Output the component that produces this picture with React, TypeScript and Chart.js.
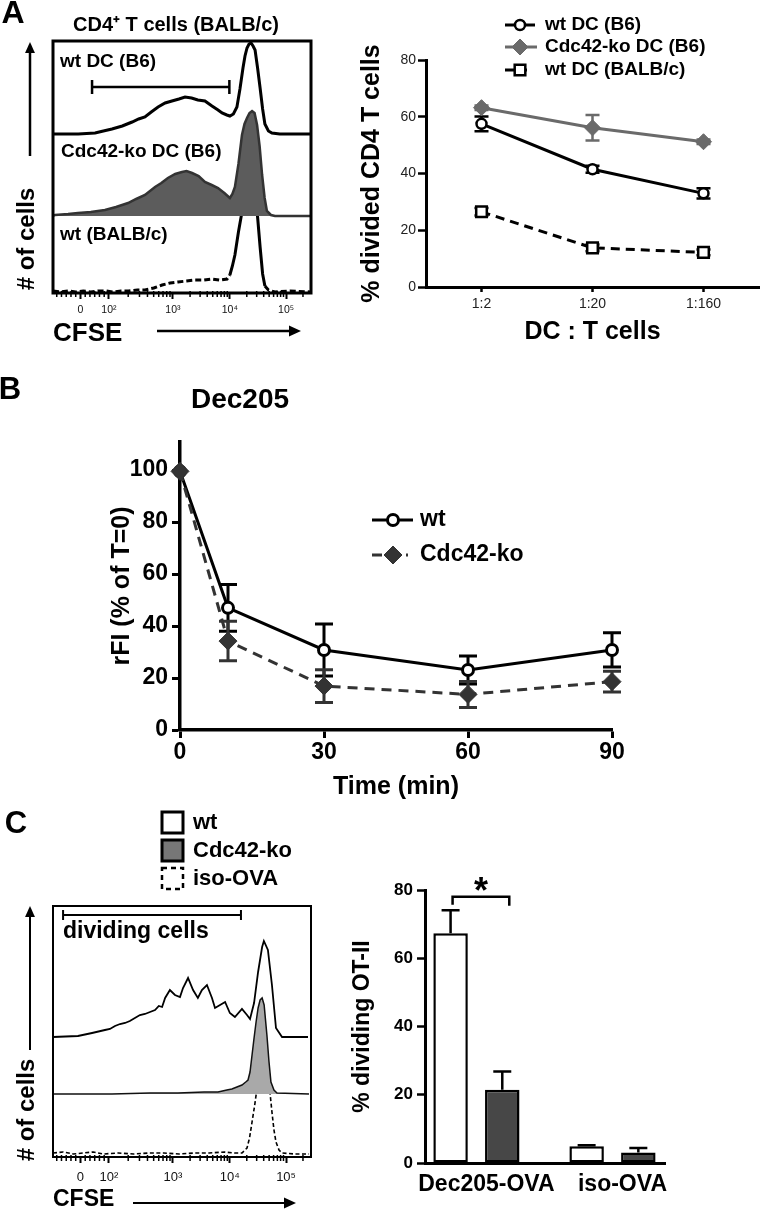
import React, { useEffect, useRef } from 'react';
import { Chart, registerables } from 'chart.js';

Chart.register(...registerables);

const PAGE_W = 769;
const PAGE_H = 1210;
const SANS = "'Liberation Sans', Arial, Helvetica, sans-serif";
const NARROW = "'Liberation Sans Narrow', 'Arial Narrow', 'Liberation Sans', Arial, sans-serif";

// ================= DATA =================
// ---- A (left): CFSE histograms (channel 0..1024, counts in events) ----
const CFSE_TICK_CHANNELS = [109, 222, 476, 702, 925];
const CFSE_TICK_LABELS = ['0', '10²', '10³', '10⁴', '10⁵'];
const A_HIST_TITLE = 'CD4⁺ T cells (BALB/c)';
const A_LANE_LABELS = ['wt DC (B6)', 'Cdc42-ko DC (B6)', 'wt (BALB/c)'];
const A_GATE = [155, 700];

const A_WT_B6_CH = [0, 100, 167, 200, 234, 275, 314, 340, 365, 390, 417, 445, 472, 500, 524, 550, 575, 603, 631, 655, 671, 690, 702, 716, 730, 742, 754, 762, 770, 778, 786, 794, 802, 812, 822, 832, 841, 855, 869, 900, 1024];
const A_WT_B6_COUNT = [0, 0, 1, 3, 5, 8, 12, 15, 17, 22, 27, 31, 33, 35, 37, 36, 34, 33, 28, 24, 21, 19, 18, 20, 27, 45, 66, 78, 86, 90, 91, 88, 84, 66, 46, 25, 10, 3, 1, 0, 0];
const A_KO_B6_CH = [0, 8, 60, 99, 150, 206, 250, 298, 330, 365, 405, 430, 456, 485, 512, 530, 552, 578, 603, 630, 655, 680, 702, 712, 722, 736, 750, 760, 770, 780, 790, 800, 810, 820, 830, 840, 849, 865, 881, 1024];
const A_KO_B6_COUNT = [0, 1, 2, 3, 4, 6, 9, 13, 17, 21, 29, 33, 38, 42, 44, 45, 43, 40, 34, 31, 28, 23, 18, 22, 29, 52, 81, 92, 98, 103, 105, 103, 91, 70, 41, 18, 5, 1, 0, 0];
const A_WT_BALB_CH = [0, 30, 60, 90, 120, 150, 180, 210, 240, 270, 300, 335, 365, 400, 433, 465, 496, 530, 564, 600, 631, 660, 691, 702, 712, 722, 736, 750, 760, 770, 778, 786, 794, 802, 812, 822, 832, 841, 855, 881, 940, 1024];
const A_WT_BALB_COUNT = [1, 0, 1, 0, 1, 0, 1, 1, 0, 1, 1, 2, 2, 4, 7, 9, 10, 11, 12, 12, 13, 12, 13, 17, 26, 37, 60, 80, 93, 100, 104, 105, 103, 97, 75, 45, 18, 6, 2, 0, 1, 0];

// ---- A (right): % divided CD4 T cells ----
const DC_T_RATIOS = ['1:2', '1:20', '1:160'];
const A_SERIES_LABELS = ['wt DC (B6)', 'Cdc42-ko DC (B6)', 'wt DC (BALB/c)'];
const DIV_WT_B6 = [57.5, 41.5, 33];
const DIV_WT_B6_ERR = [2.6, 1.2, 1.8];
const DIV_KO_B6 = [63.2, 56.1, 51.2];
const DIV_KO_B6_ERR = [0.8, 4.5, 0.8];
const DIV_WT_BALB = [26.5, 13.8, 12.2];
const DIV_WT_BALB_ERR = [1.3, 1.2, 1.0];

// ---- B: Dec205 internalisation ----
const B_TITLE = 'Dec205';
const B_SERIES_LABELS = ['wt', 'Cdc42-ko'];
const TIME_MIN = [0, 10, 30, 60, 90];
const RFI_WT = [99.5, 47, 30.8, 23.1, 30.8];
const RFI_WT_ERR = [0, 9, 10, 5.4, 6.6];
const RFI_KO = [99.5, 34.2, 16.9, 13.7, 18.6];
const RFI_KO_ERR = [0, 7.6, 6.3, 5.0, 4.0];

// ---- C (left): OT-II CFSE histograms ----
const C_LEGEND_LABELS = ['wt', 'Cdc42-ko', 'iso-OVA'];
const C_GATE_LABEL = 'dividing cells';
const C_GATE = [40, 746];
const C_WT_CH = [0, 99, 155, 206, 226, 246, 266, 286, 305, 325, 345, 365, 385, 405, 420, 433, 445, 464, 484, 504, 516, 536, 556, 575, 591, 611, 631, 643, 663, 683, 702, 722, 750, 770, 782, 798, 814, 830, 837, 853, 869, 885, 909, 1012];
const C_WT_COUNT = [0, 1, 4, 7, 8, 11, 13, 14, 16, 19, 22, 23, 25, 27, 31, 30, 39, 47, 42, 40, 49, 59, 47, 39, 47, 52, 39, 29, 32, 35, 24, 20, 28, 22, 18, 34, 65, 90, 96, 87, 52, 9, 0, 0];
const C_KO_CH = [4, 100, 234, 385, 496, 600, 655, 690, 710, 730, 750, 765, 774, 782, 790, 798, 806, 814, 822, 830, 838, 849, 857, 865, 877, 889, 1016];
const C_KO_COUNT = [0, 0, 0, 1, 1, 2, 2, 4, 5, 7, 9, 12, 14, 22, 39, 56, 72, 86, 94, 96, 89, 59, 33, 12, 4, 1, 0];
const C_ISO_CH = [0, 40, 80, 120, 160, 200, 260, 320, 380, 440, 500, 560, 620, 680, 720, 750, 770, 780, 790, 800, 810, 818, 826, 834, 841, 847, 853, 861, 869, 877, 885, 897, 909, 960, 1016];
const C_ISO_COUNT = [1, 2, 0, 1, 2, 0, 1, 0, 1, 1, 0, 1, 1, 2, 1, 1, 6, 16, 32, 48, 66, 80, 91, 94, 92, 86, 79, 62, 42, 24, 12, 4, 1, 0, 0];

// ---- C (right): % dividing OT-II ----
const OVA_GROUPS = ['Dec205-OVA', 'iso-OVA'];
const OTII_WT = [67.3, 4.9];
const OTII_WT_ERR = [6.8, 0.3];
const OTII_KO = [21.5, 3.1];
const OTII_KO_ERR = [5.3, 1.3];
const SIG_LEVEL = 78;
const SIG_MARK = '*';

// ================= LAYOUT =================
type Area = { l: number; t: number; r: number; b: number };
const AREA_A_HIST: Area = { l: 53, t: 41, r: 311, b: 293 };
const AREA_A_LINE: Area = { l: 426, t: 60, r: 769, b: 287 };
const AREA_B: Area = { l: 180, t: 442, r: 612, b: 730 };
const AREA_C_HIST: Area = { l: 53, t: 906, r: 311, b: 1157 };
const AREA_C_BAR: Area = { l: 425, t: 890, r: 665, b: 1163 };
const A_BASELINES = [134, 216, 292];
const C_BASELINES = [1037, 1094, 1154];

const base = (a: Area, yw: number, xh: number) => ({
  animation: false as const,
  responsive: false,
  maintainAspectRatio: false,
  devicePixelRatio: 1,
  events: [] as any[],
  layout: { padding: { left: a.l - yw, top: a.t, right: PAGE_W - a.r, bottom: PAGE_H - a.b - xh } },
  plugins: { legend: { display: false }, tooltip: { enabled: false }, title: { display: false } },
});

const zip = (xs: number[], ys: number[]) => xs.map((x, i) => ({ x, y: ys[i] }));
const bold = (size: number, family = SANS) => ({ family, size, weight: 'bold' as const });

// dashed where the trace is shallow, solid on the steep flanks of the peak
const steepSolid = (dash: number[]) => ({
  borderDash: (c: any) => {
    const dx = Math.abs(c.p1.x - c.p0.x);
    const dy = Math.abs(c.p1.y - c.p0.y);
    return dy > 1.6 * dx ? [] : dash;
  },
});

// ================= DRAW HELPERS =================
function text(ctx: CanvasRenderingContext2D, s: string, x: number, y: number, size: number,
  o: { bold?: boolean; align?: CanvasTextAlign; baseline?: CanvasTextBaseline; rot?: number; family?: string; color?: string } = {}) {
  ctx.save();
  ctx.font = `${o.bold === false ? '' : 'bold '}${size}px ${o.family || SANS}`;
  ctx.fillStyle = o.color || '#000';
  ctx.textAlign = o.align || 'left';
  ctx.textBaseline = o.baseline || 'middle';
  ctx.translate(x, y);
  if (o.rot) ctx.rotate(o.rot);
  ctx.fillText(s, 0, 0);
  ctx.restore();
}

function arrow(ctx: CanvasRenderingContext2D, x1: number, y1: number, x2: number, y2: number, lw = 2.5, head = 11) {
  const a = Math.atan2(y2 - y1, x2 - x1);
  const c = Math.cos(a), s = Math.sin(a);
  ctx.save();
  ctx.strokeStyle = '#000';
  ctx.fillStyle = '#000';
  ctx.lineWidth = lw;
  ctx.beginPath();
  ctx.moveTo(x1, y1);
  ctx.lineTo(x2 - c * head * 0.7, y2 - s * head * 0.7);
  ctx.stroke();
  const w = head * 0.45;
  ctx.beginPath();
  ctx.moveTo(x2, y2);
  ctx.lineTo(x2 - head * c + w * s, y2 - head * s - w * c);
  ctx.lineTo(x2 - head * c - w * s, y2 - head * s + w * c);
  ctx.closePath();
  ctx.fill();
  ctx.restore();
}

function marker(ctx: CanvasRenderingContext2D, style: string, x: number, y: number, r: number, fill: string, stroke: string, lw: number) {
  ctx.save();
  ctx.beginPath();
  if (style === 'circle') ctx.arc(x, y, r, 0, Math.PI * 2);
  else if (style === 'rectRot') {
    ctx.moveTo(x - r, y); ctx.lineTo(x, y - r); ctx.lineTo(x + r, y); ctx.lineTo(x, y + r); ctx.closePath();
  } else {
    const h = r * Math.SQRT1_2;
    ctx.rect(x - h, y - h, 2 * h, 2 * h);
  }
  ctx.fillStyle = fill;
  ctx.fill();
  ctx.lineWidth = lw;
  ctx.strokeStyle = stroke;
  ctx.setLineDash([]);
  ctx.stroke();
  ctx.restore();
}

function drawErrors(chart: any, upperOnly: boolean, cap: number, lw: number) {
  const ctx: CanvasRenderingContext2D = chart.ctx;
  chart.data.datasets.forEach((ds: any, di: number) => {
    const errs: number[] = ds.errors;
    if (!errs) return;
    const meta = chart.getDatasetMeta(di);
    const ys = chart.scales[meta.yAxisID];
    ctx.save();
    ctx.strokeStyle = ds.errorColor || ds.borderColor;
    ctx.lineWidth = lw;
    ctx.setLineDash([]);
    meta.data.forEach((el: any, i: number) => {
      const e = errs[i];
      if (!e) return;
      const raw = ds.data[i];
      const v = typeof raw === 'number' ? raw : raw.y;
      const x = el.x;
      const top = ys.getPixelForValue(v + e);
      const bot = ys.getPixelForValue(upperOnly ? v : v - e);
      ctx.beginPath();
      ctx.moveTo(x, top); ctx.lineTo(x, bot);
      ctx.moveTo(x - cap, top); ctx.lineTo(x + cap, top);
      if (!upperOnly) { ctx.moveTo(x - cap, bot); ctx.lineTo(x + cap, bot); }
      ctx.stroke();
    });
    ctx.restore();
  });
}

function drawLineLegend(chart: any, rows: number[], x0: number, x1s: number[], xm: number, xt: number, size: number) {
  const ctx: CanvasRenderingContext2D = chart.ctx;
  chart.data.datasets.forEach((ds: any, i: number) => {
    const y = rows[i];
    ctx.save();
    ctx.strokeStyle = ds.borderColor;
    ctx.lineWidth = ds.borderWidth;
    ctx.setLineDash(ds.borderDash || []);
    ctx.beginPath();
    ctx.moveTo(x0, y);
    ctx.lineTo(x1s[i], y);
    ctx.stroke();
    ctx.restore();
    marker(ctx, ds.pointStyle, xm, y, ds.pointRadius, ds.pointBackgroundColor, ds.pointBorderColor, ds.pointBorderWidth);
    text(ctx, ds.label, xt, y, size);
  });
}

function cfseMinorTicks(): number[] {
  const t = CFSE_TICK_CHANNELS;
  const out: number[] = [];
  const lin = t[1] - t[0];
  for (let k = 1; k < 6; k++) out.push(t[0] + (lin * k) / 6, t[0] - (lin * k) / 6);
  for (let d = 1; d < t.length; d++) {
    const span = d < t.length - 1 ? t[d + 1] - t[d] : t[d] - t[d - 1];
    for (let k = 2; k < 10; k++) out.push(t[d] + span * Math.log10(k));
  }
  return out.filter((v) => v > 2 && v < 1022);
}

function drawHistFrame(chart: any, lw: number) {
  const ctx: CanvasRenderingContext2D = chart.ctx;
  const ca = chart.chartArea;
  const xs = chart.scales.x;
  ctx.save();
  ctx.strokeStyle = '#000';
  ctx.lineWidth = lw;
  ctx.strokeRect(ca.left, ca.top, ca.right - ca.left, ca.bottom - ca.top);
  ctx.lineWidth = 1.5;
  ctx.beginPath();
  for (const v of cfseMinorTicks()) {
    const px = xs.getPixelForValue(v);
    ctx.moveTo(px, ca.bottom - 2);
    ctx.lineTo(px, ca.bottom + 4);
  }
  ctx.stroke();
  ctx.restore();
}

function drawGate(chart: any, gate: number[], y: number, capH: number, lw: number) {
  const ctx: CanvasRenderingContext2D = chart.ctx;
  const xs = chart.scales.x;
  const g1 = xs.getPixelForValue(gate[0]);
  const g2 = xs.getPixelForValue(gate[1]);
  ctx.save();
  ctx.strokeStyle = '#000';
  ctx.lineWidth = lw;
  ctx.beginPath();
  ctx.moveTo(g1, y); ctx.lineTo(g2, y);
  ctx.moveTo(g1, y - capH); ctx.lineTo(g1, y + capH);
  ctx.moveTo(g2, y - capH); ctx.lineTo(g2, y + capH);
  ctx.stroke();
  ctx.restore();
}

// ================= AXES =================
const cfseAxis = (fontSize: number, pad: number) => ({
  type: 'linear' as const,
  min: 0,
  max: 1024,
  afterFit: (s: any) => { s.height = 45; },
  afterBuildTicks: (s: any) => { s.ticks = CFSE_TICK_CHANNELS.map((v) => ({ value: v })); },
  ticks: {
    callback: (_v: any, i: number) => CFSE_TICK_LABELS[i],
    font: { family: SANS, size: fontSize },
    color: '#111',
    padding: pad,
    maxRotation: 0,
    autoSkip: false,
  },
  grid: { drawOnChartArea: false, tickLength: 6, tickWidth: 2, tickColor: '#000' },
  border: { display: false },
});

const laneAxis = (a: Area, baseline: number) => ({
  type: 'linear' as const,
  axis: 'y',
  position: 'left',
  display: false,
  min: baseline - a.b,
  max: baseline - a.t,
});

// ================= CHART BUILDERS =================
function buildAHist(canvas: HTMLCanvasElement) {
  const a = AREA_A_HIST;
  return new Chart(canvas, {
    type: 'line',
    data: {
      datasets: [
        { label: A_LANE_LABELS[0], data: zip(A_WT_B6_CH, A_WT_B6_COUNT), yAxisID: 'yLane0', borderColor: '#000', borderWidth: 3, pointRadius: 0, fill: false, tension: 0 },
        { label: A_LANE_LABELS[1], data: zip(A_KO_B6_CH, A_KO_B6_COUNT), yAxisID: 'yLane1', borderColor: '#333', backgroundColor: '#5c5c5c', borderWidth: 2.5, pointRadius: 0, fill: 'origin', tension: 0 },
        { label: A_LANE_LABELS[2], data: zip(A_WT_BALB_CH, A_WT_BALB_COUNT), yAxisID: 'yLane2', borderColor: '#000', borderWidth: 3, pointRadius: 0, fill: false, tension: 0, segment: steepSolid([6, 3]) },
      ],
    } as any,
    options: {
      ...base(a, 0, 45),
      scales: {
        x: cfseAxis(10.5, 4.5),
        yLane0: laneAxis(a, A_BASELINES[0]),
        yLane1: laneAxis(a, A_BASELINES[1]),
        yLane2: laneAxis(a, A_BASELINES[2]),
      },
    } as any,
    plugins: [{
      id: 'aHistDecor',
      afterDraw(chart: any) {
        const ctx = chart.ctx;
        drawHistFrame(chart, 3);
        drawGate(chart, A_GATE, 87, 7, 2.5);
        text(ctx, 'A', 13, 14, 32, { align: 'center' });
        text(ctx, A_HIST_TITLE, 176, 25, 20, { align: 'center' });
        text(ctx, A_LANE_LABELS[0], 60, 62, 19);
        text(ctx, A_LANE_LABELS[1], 61, 152, 19);
        text(ctx, A_LANE_LABELS[2], 60, 235, 19);
        text(ctx, '# of cells', 27, 239, 24, { align: 'center', rot: -Math.PI / 2 });
        arrow(ctx, 30, 156, 30, 42, 2.5, 11);
        text(ctx, 'CFSE', 53, 334, 26);
        arrow(ctx, 157, 331, 301, 331, 2.5, 12);
      },
    }],
  });
}

function buildALine(canvas: HTMLCanvasElement) {
  const a = AREA_A_LINE;
  return new Chart(canvas, {
    type: 'line',
    data: {
      labels: DC_T_RATIOS,
      datasets: [
        { label: A_SERIES_LABELS[0], data: DIV_WT_B6, errors: DIV_WT_B6_ERR, borderColor: '#000', borderWidth: 3, pointStyle: 'circle', pointRadius: 5, pointBackgroundColor: '#fff', pointBorderColor: '#000', pointBorderWidth: 2.5, clip: false, tension: 0 },
        { label: A_SERIES_LABELS[1], data: DIV_KO_B6, errors: DIV_KO_B6_ERR, borderColor: '#6a6a6a', borderWidth: 3, pointStyle: 'rectRot', pointRadius: 8, pointBackgroundColor: '#6a6a6a', pointBorderColor: '#6a6a6a', pointBorderWidth: 1, clip: false, tension: 0 },
        { label: A_SERIES_LABELS[2], data: DIV_WT_BALB, errors: DIV_WT_BALB_ERR, borderColor: '#000', borderWidth: 3, borderDash: [9, 6], pointStyle: 'rect', pointRadius: 7.5, pointBackgroundColor: '#fff', pointBorderColor: '#000', pointBorderWidth: 2.5, clip: false, tension: 0 },
      ],
    } as any,
    options: {
      ...base(a, 86, 60),
      scales: {
        x: {
          type: 'category',
          offset: true,
          afterFit: (s: any) => { s.height = 60; },
          ticks: { font: { family: SANS, size: 14 }, color: '#222', padding: 4, maxRotation: 0 },
          grid: { drawOnChartArea: false, offset: false, tickLength: 5, tickWidth: 2.5, tickColor: '#000' },
          border: { color: '#000', width: 3 },
          title: { display: true, text: 'DC : T cells', font: bold(25), color: '#000', padding: 0 },
        },
        y: {
          type: 'linear',
          min: 0,
          max: 80,
          afterFit: (s: any) => { s.width = 86; },
          ticks: { stepSize: 20, font: { family: SANS, size: 14 }, color: '#222', padding: 2 },
          grid: { drawOnChartArea: false, tickLength: 8, tickWidth: 2.5, tickColor: '#000' },
          border: { color: '#000', width: 3 },
          title: { display: true, text: '% divided CD4 T cells', font: bold(25), color: '#000', padding: { top: 17, bottom: 0 } },
        },
      },
    } as any,
    plugins: [{
      id: 'aLineDecor',
      beforeDatasetsDraw(chart: any) { drawErrors(chart, false, 7, 2.5); },
      afterDraw(chart: any) { drawLineLegend(chart, [25, 47, 70], 505, [535, 537, 527], 520, 545, 19); },
    }],
  });
}

function buildB(canvas: HTMLCanvasElement) {
  const a = AREA_B;
  return new Chart(canvas, {
    type: 'line',
    data: {
      datasets: [
        { label: B_SERIES_LABELS[0], data: zip(TIME_MIN, RFI_WT), errors: RFI_WT_ERR, order: 1, borderColor: '#000', borderWidth: 3, pointStyle: 'circle', pointRadius: 5.5, pointBackgroundColor: '#fff', pointBorderColor: '#000', pointBorderWidth: 3, clip: false, tension: 0 },
        { label: B_SERIES_LABELS[1], data: zip(TIME_MIN, RFI_KO), errors: RFI_KO_ERR, order: 0, borderColor: '#333', borderWidth: 3, borderDash: [10, 7], pointStyle: 'rectRot', pointRadius: 9, pointBackgroundColor: '#333', pointBorderColor: '#333', pointBorderWidth: 1, clip: false, tension: 0 },
      ],
    } as any,
    options: {
      ...base(a, 80, 72),
      scales: {
        x: {
          type: 'linear',
          min: 0,
          max: 90,
          afterFit: (s: any) => { s.height = 72; },
          ticks: { stepSize: 30, font: bold(23, NARROW), color: '#000', padding: 1, maxRotation: 0 },
          grid: { drawOnChartArea: false, tickLength: 8, tickWidth: 3, tickColor: '#000' },
          border: { color: '#000', width: 3.5 },
          title: { display: true, text: 'Time (min)', font: bold(25), color: '#000', padding: 0 },
        },
        y: {
          type: 'linear',
          min: 0,
          max: 110.8,
          afterFit: (s: any) => { s.width = 80; },
          ticks: { stepSize: 20, includeBounds: false, font: bold(23, NARROW), color: '#000', padding: 4 },
          grid: { drawOnChartArea: false, tickLength: 8, tickWidth: 3, tickColor: '#000' },
          border: { color: '#000', width: 3.5 },
          title: { display: true, text: 'rFI (% of T=0)', font: bold(25), color: '#000', padding: { top: 7, bottom: 0 } },
        },
      },
    } as any,
    plugins: [{
      id: 'bDecor',
      beforeDatasetsDraw(chart: any) { drawErrors(chart, false, 9, 3); },
      afterDraw(chart: any) {
        const ctx = chart.ctx;
        text(ctx, 'B', 10, 390, 31, { align: 'center' });
        text(ctx, B_TITLE, 240, 400, 28, { align: 'center' });
        drawLineLegend(chart, [520, 555], 372, [413, 408], 393, 420, 23);
      },
    }],
  });
}

function buildCHist(canvas: HTMLCanvasElement) {
  const a = AREA_C_HIST;
  return new Chart(canvas, {
    type: 'line',
    data: {
      datasets: [
        { label: C_LEGEND_LABELS[0], data: zip(C_WT_CH, C_WT_COUNT), yAxisID: 'yLane0', borderColor: '#000', borderWidth: 1.8, pointRadius: 0, fill: false, tension: 0 },
        { label: C_LEGEND_LABELS[1], data: zip(C_KO_CH, C_KO_COUNT), yAxisID: 'yLane1', borderColor: '#111', backgroundColor: '#a9a9a9', borderWidth: 1.5, pointRadius: 0, fill: 'origin', tension: 0 },
        { label: C_LEGEND_LABELS[2], data: zip(C_ISO_CH, C_ISO_COUNT), yAxisID: 'yLane2', borderColor: '#000', borderWidth: 1.6, borderDash: [4, 2.5], pointRadius: 0, fill: false, tension: 0 },
      ],
    } as any,
    options: {
      ...base(a, 0, 45),
      scales: {
        x: cfseAxis(13, 7),
        yLane0: laneAxis(a, C_BASELINES[0]),
        yLane1: laneAxis(a, C_BASELINES[1]),
        yLane2: laneAxis(a, C_BASELINES[2]),
      },
    } as any,
    plugins: [{
      id: 'cHistDecor',
      afterDraw(chart: any) {
        const ctx: CanvasRenderingContext2D = chart.ctx;
        drawHistFrame(chart, 2);
        drawGate(chart, C_GATE, 915, 5, 2);
        text(ctx, C_GATE_LABEL, 63, 932, 23);
        text(ctx, 'C', 16, 824, 31, { align: 'center' });
        // legend
        const boxes = [812, 840, 868];
        ctx.save();
        ctx.strokeStyle = '#000';
        ctx.lineWidth = 3;
        ctx.fillStyle = '#fff';
        ctx.fillRect(162, boxes[0], 21, 21);
        ctx.strokeRect(162, boxes[0], 21, 21);
        ctx.fillStyle = '#777';
        ctx.fillRect(162, boxes[1], 21, 21);
        ctx.strokeRect(162, boxes[1], 21, 21);
        ctx.lineWidth = 2.5;
        ctx.setLineDash([5, 4]);
        ctx.strokeRect(162, boxes[2], 21, 21);
        ctx.restore();
        C_LEGEND_LABELS.forEach((s, i) => text(ctx, s, 193, boxes[i] + 11, 22));
        text(ctx, '# of cells', 27, 1110, 24, { align: 'center', rot: -Math.PI / 2 });
        arrow(ctx, 30, 1050, 30, 906, 2, 11);
        text(ctx, 'CFSE', 53, 1200, 23);
        arrow(ctx, 133, 1203, 296, 1203, 2, 12);
      },
    }],
  });
}

function buildCBar(canvas: HTMLCanvasElement) {
  const a = AREA_C_BAR;
  return new Chart(canvas, {
    type: 'bar',
    data: {
      datasets: [
        { label: C_LEGEND_LABELS[0], data: OVA_GROUPS.map((_, i) => ({ x: i, y: OTII_WT[i] })), errors: OTII_WT_ERR, errorColor: '#000', backgroundColor: '#fff', borderColor: '#000', borderWidth: 2.5, borderSkipped: false, categoryPercentage: 0.76, barPercentage: 0.667 },
        { label: C_LEGEND_LABELS[1], data: OVA_GROUPS.map((_, i) => ({ x: i, y: OTII_KO[i] })), errors: OTII_KO_ERR, errorColor: '#000', backgroundColor: '#474747', borderColor: '#000', borderWidth: 2.5, borderSkipped: false, categoryPercentage: 0.76, barPercentage: 0.667 },
      ],
    } as any,
    options: {
      ...base(a, 90, 45),
      scales: {
        x: {
          type: 'linear',
          min: -0.378,
          max: 1.386,
          offset: false,
          afterFit: (s: any) => { s.height = 45; },
          afterBuildTicks: (s: any) => { s.ticks = OVA_GROUPS.map((_, i) => ({ value: i })); },
          ticks: { callback: (_v: any, i: number) => OVA_GROUPS[i], font: bold(23), color: '#000', padding: 8, labelOffset: 10, maxRotation: 0, autoSkip: false },
          grid: { drawOnChartArea: false, drawTicks: false, offset: false },
          border: { color: '#000', width: 3 },
        },
        y: {
          type: 'linear',
          min: 0,
          max: 80,
          afterFit: (s: any) => { s.width = 90; },
          ticks: { stepSize: 20, font: bold(17), color: '#000', padding: 4 },
          grid: { drawOnChartArea: false, tickLength: 8, tickWidth: 2.5, tickColor: '#000' },
          border: { color: '#000', width: 3 },
          title: { display: true, text: '% dividing OT-II', font: bold(23), color: '#000', padding: { top: 14, bottom: 0 } },
        },
      },
    } as any,
    plugins: [{
      id: 'cBarDecor',
      afterDatasetsDraw(chart: any) {
        drawErrors(chart, true, 9, 2.5);
        const ctx: CanvasRenderingContext2D = chart.ctx;
        const b0 = chart.getDatasetMeta(0).data[0];
        const b1 = chart.getDatasetMeta(1).data[0];
        const yTop = chart.scales.y.getPixelForValue(SIG_LEVEL);
        const x1 = b0.x + 2;
        const x2 = b1.x + 7;
        ctx.save();
        ctx.strokeStyle = '#000';
        ctx.lineWidth = 2.5;
        ctx.beginPath();
        ctx.moveTo(x1, yTop + 8); ctx.lineTo(x1, yTop); ctx.lineTo(x2, yTop); ctx.lineTo(x2, yTop + 9);
        ctx.stroke();
        ctx.restore();
        text(ctx, SIG_MARK, (x1 + x2) / 2, yTop + 6, 36, { align: 'center', baseline: 'alphabetic' });
      },
    }],
  });
}

// ================= REACT =================
function ChartLayer({ build }: { build: (c: HTMLCanvasElement) => Chart }) {
  const ref = useRef<HTMLCanvasElement | null>(null);
  useEffect(() => {
    if (!ref.current) return;
    const chart = build(ref.current);
    return () => chart.destroy();
  }, [build]);
  return (
    <canvas
      ref={ref}
      width={PAGE_W}
      height={PAGE_H}
      style={{ position: 'absolute', left: 0, top: 0, width: PAGE_W, height: PAGE_H }}
    />
  );
}

export default function App() {
  return (
    <div style={{ position: 'absolute', left: 0, top: 0, width: PAGE_W, height: PAGE_H, background: '#fff', overflow: 'hidden' }}>
      <ChartLayer build={buildAHist} />
      <ChartLayer build={buildALine} />
      <ChartLayer build={buildB} />
      <ChartLayer build={buildCHist} />
      <ChartLayer build={buildCBar} />
    </div>
  );
}
